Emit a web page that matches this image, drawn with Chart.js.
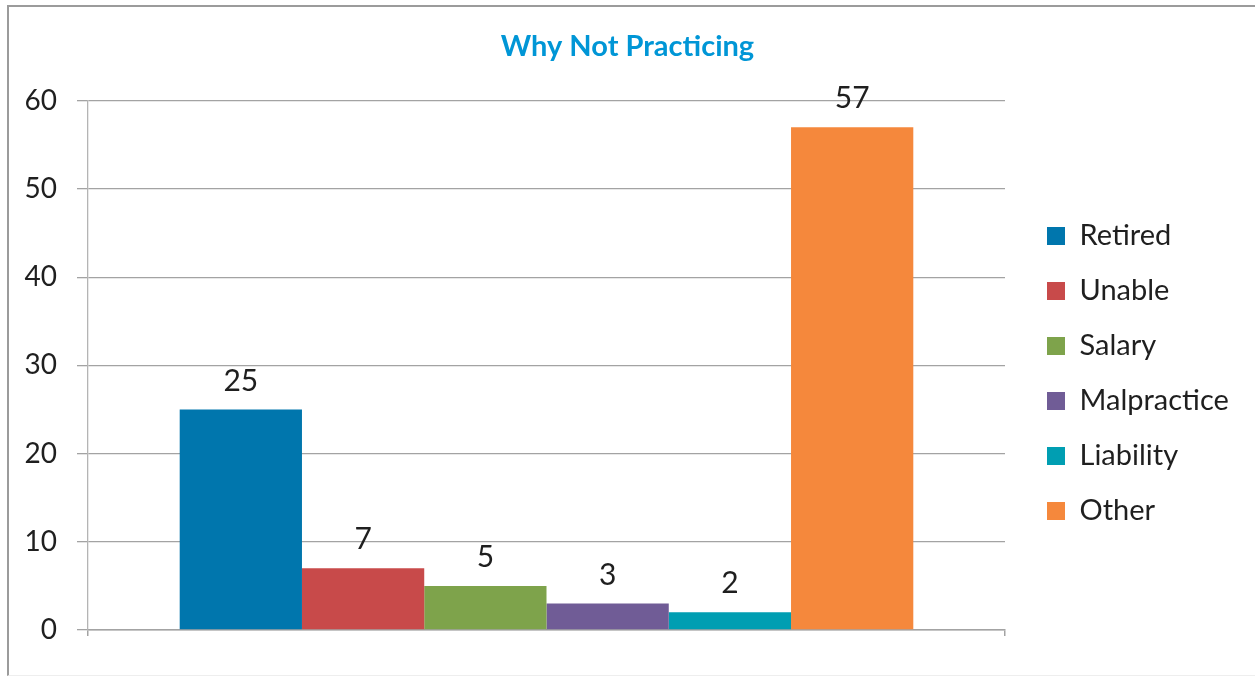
<!DOCTYPE html>
<html>
<head>
<meta charset="utf-8">
<title>Why Not Practicing</title>
<script src="https://cdn.jsdelivr.net/npm/chart.js@4.4.0/dist/chart.umd.min.js"></script>
<style>
  html, body { margin: 0; padding: 0; background: #fff; overflow: hidden; }
  #wrap { position: relative; width: 1255px; height: 677px; }
  #frame {
    position: absolute; left: 7px; top: 5px; width: 1260px; height: 668px;
    border-left: 2px solid #9b9b9b; border-top: 2px solid #9b9b9b; border-bottom: 1px solid #eeeeee;
    pointer-events: none;
  }
</style>
</head>
<body>
<div id="wrap">
  <canvas id="whyChart" width="1255" height="677"></canvas>
  <div id="frame"></div>
</div>
<script>
// Chart data
const categories = [""];
const reasons = ["Retired", "Unable", "Salary", "Malpractice", "Liability", "Other"];
const counts = [25, 7, 5, 3, 2, 57];
const reasonColors = ["#0076ad", "#c84a4a", "#7ea34b", "#705c96", "#009eb2", "#f5883c"];
const yTicks = [0, 10, 20, 30, 40, 50, 60];

const textColor = "#1f1f1f";
const gridColor = "#a3a3a3";
const legendWidth = 234;

// One dataset per reason, all in the single category
const datasets = reasons.map((name, i) => ({
  label: name,
  data: [counts[i]],
  backgroundColor: reasonColors[i],
  borderWidth: 0,
}));

// Values written above every bar
const barValues = {
  id: "barValues",
  afterDatasetsDraw(chart) {
    const ctx = chart.ctx;
    ctx.save();
    ctx.font = "30px Lato";
    ctx.fillStyle = textColor;
    ctx.textAlign = "center";
    ctx.textBaseline = "alphabetic";
    chart.data.datasets.forEach((ds, i) => {
      chart.getDatasetMeta(i).data.forEach((bar, j) => {
        ctx.fillText(String(ds.data[j]), bar.x, bar.y - 19);
      });
    });
    ctx.restore();
  },
};

// Fixed legend width so the plot area ends where the reference one does
const legendSize = {
  id: "legendSize",
  beforeLayout(chart) {
    const legend = chart.legend;
    if (!legend || legend._sized) return;
    const fit = legend.fit;
    legend.fit = function () {
      fit.call(this);
      this.width = legendWidth;
    };
    legend._sized = true;
  },
};

new Chart(document.getElementById("whyChart"), {
  type: "bar",
  data: { labels: categories, datasets },
  options: {
    responsive: false,
    animation: false,
    layout: { padding: 0 },
    datasets: { bar: { categoryPercentage: 0.8, barPercentage: 1 } },
    scales: {
      x: {
        grid: { display: true, drawOnChartArea: false, drawTicks: true, tickLength: 6, color: gridColor, lineWidth: 1.5, offset: true },
        border: { display: true, color: gridColor, width: 1.5 },
        ticks: { display: false },
        afterFit: (s) => { s.height = 47; },
      },
      y: {
        min: 0,
        max: 60,
        afterBuildTicks: (s) => { s.ticks = yTicks.map((v) => ({ value: v })); },
        grid: { color: gridColor, lineWidth: 1.3, tickLength: 11 },
        border: { display: true, color: "#b4b4b4", width: 1.3 },
        ticks: { color: textColor, font: { family: "Lato", size: 28 }, padding: 20 },
        afterFit: (s) => { s.width = 88; },
      },
      pad: {
        type: "linear",
        position: "right",
        display: true,
        grid: { display: false, drawTicks: false },
        border: { display: false },
        ticks: { display: false },
        afterFit: (s) => { s.width = 16; },
      },
    },
    plugins: {
      title: {
        display: true,
        text: "Why Not Practicing",
        color: "#0096d6",
        font: { family: "Lato", size: 29, weight: "bold", lineHeight: 1.2 },
        padding: { top: 29, bottom: 37 },
      },
      legend: {
        position: "right",
        fullSize: false,
        title: { display: true, text: "", padding: 0, font: { size: 10, lineHeight: 1.6 } },
        labels: {
          color: textColor,
          font: { family: "Lato", size: 29 },
          boxWidth: 18,
          boxHeight: 18,
          padding: 26,
        },
      },
      tooltip: { enabled: false },
    },
  },
  plugins: [barValues, legendSize],
});
</script>
</body>
</html>
